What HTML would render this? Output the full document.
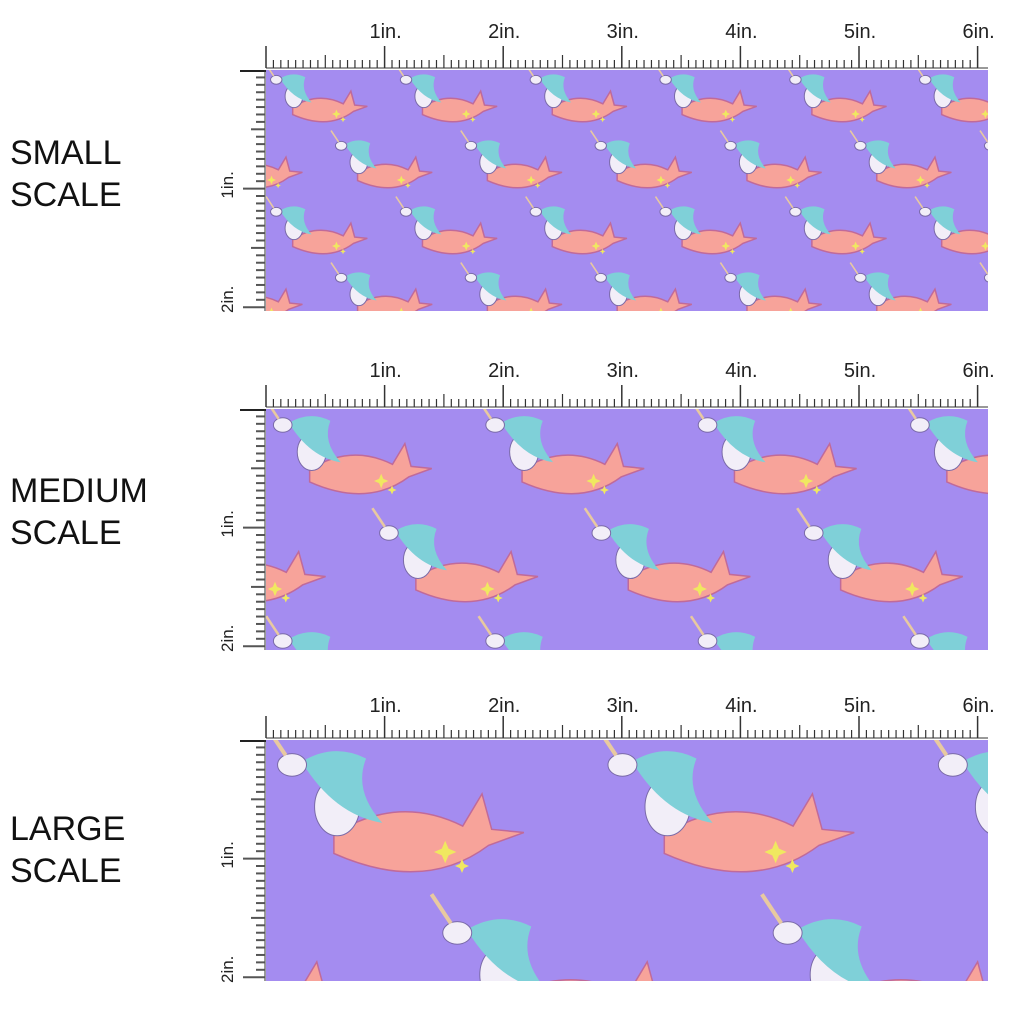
<!DOCTYPE html>
<html style="overflow:hidden"><head><style>
html,body{margin:0;background:#fff;width:1024px;height:1024px;overflow:hidden;font-family:"Liberation Sans",sans-serif}
.lab{position:absolute;left:10px;font-size:34px;line-height:42px;color:#111}
</style></head><body>
<div class="lab" style="top:132px">SMALL<br>SCALE</div>
<div class="lab" style="top:470px">MEDIUM<br>SCALE</div>
<div class="lab" style="top:808px">LARGE<br>SCALE</div>
<svg id="s" width="1024" height="1024" style="position:absolute;left:0;top:0;display:block"></svg>
<script>
const s=document.getElementById('s');let h='';
const P=118.6;
function motif(x,y,k){
 h+=`<path d="M${x-10*k},${y+15*k} q${40*k},${-25*k} ${80*k},${-5*k} l${12*k},${-20*k} l${6*k},${22*k} l${20*k},${2*k} l${-22*k},${8*k} q${-40*k},${30*k} ${-96*k},${5*k}z" fill="#f7a39a" stroke="#c06a9a" stroke-width="1.5"/>`;
 h+=`<ellipse cx="${x-8*k}" cy="${y-2*k}" rx="${14*k}" ry="${18*k}" fill="#f2eef8" stroke="#7a6aa8" stroke-width="1"/>`;
 h+=`<path d="M${x-30*k},${y-30*k} q${20*k},${-12*k} ${40*k},${-2*k} q${-8*k},${20*k} ${10*k},${40*k} q${-30*k},${-5*k} ${-50*k},${-38*k}z" fill="#7fd0d8"/>`;
 h+=`<ellipse cx="${x-36*k}" cy="${y-28*k}" rx="${9*k}" ry="${7*k}" fill="#f2eef8" stroke="#7a6aa8" stroke-width="1"/>`;
 h+=`<line x1="${x-40*k}" y1="${y-34*k}" x2="${x-52*k}" y2="${y-52*k}" stroke="#e8c9a0" stroke-width="${2.5*k}"/>`;
}
function star(x,y,r){h+=`<path d="M${x},${y-r} L${x+r*.3},${y-r*.3} L${x+r},${y} L${x+r*.3},${y+r*.3} L${x},${y+r} L${x-r*.3},${y+r*.3} L${x-r},${y} L${x-r*.3},${y-r*.3}z" fill="#f0e860"/>`;}
function panel(y0,k,lblY){
 const x0=266,x1=988,y1=y0+241;
 h+=`<defs><clipPath id="c${y0}"><rect x="${x0}" y="${y0}" width="${x1-x0}" height="241"/></clipPath></defs>`;
 h+=`<rect x="${x0}" y="${y0}" width="${x1-x0}" height="241" fill="#a48cf0"/>`;
 h+=`<g clip-path="url(#c${y0})">`;
 const w=236*k, hh=120*k;
 for(let r=-1;r<3/k+2;r++)for(let c=-1;c<8/k;c++){
  const ox=x0+c*w+(r%2?w/2:0), oy=y0+30*k+r*hh;
  motif(ox+60*k,oy+20*k,k*1.15);
  star(ox+w/2+10*k,oy+50*k,8*k);star(ox+w/2+22*k,oy+60*k,5*k);
 }
 h+=`</g>`;
 const base=y0-2;
 h+=`<line x1="${x0}" y1="${base}" x2="${x1}" y2="${base}" stroke="#333" stroke-width="1"/>`;
 for(let i=0;i<=96;i++){const x=x0+i*P/16;let len=i%16==0?22:(i%8==0?13:8);
  if(x>x1+1)break;h+=`<line x1="${x}" y1="${base}" x2="${x}" y2="${base-len}" stroke="#333" stroke-width="${i%16==0?1.5:1.2}"/>`;}
 for(let i=1;i<=6;i++)h+=`<text x="${x0+i*P+1}" y="${lblY}" font-size="20" text-anchor="middle" fill="#222" font-family="Liberation Sans">${i}in.</text>`;
 h+=`<line x1="240" y1="${y0+1}" x2="${x0}" y2="${y0+1}" stroke="#222" stroke-width="2"/>`;
 h+=`<line x1="${x0-1}" y1="${y0}" x2="${x0-1}" y2="${y1}" stroke="#333"/>`;
 for(let i=1;i<=32;i++){const y=y0+i*P/16;if(y>y1)break;let len=i%16==0?22:(i%8==0?14:9);
  h+=`<line x1="${x0-1}" y1="${y}" x2="${x0-1-len}" y2="${y}" stroke="#555" stroke-width="2"/>`;}
 h+=`<text transform="translate(233,${y0+P+10}) rotate(-90)" font-size="17" fill="#222" font-family="Liberation Sans">1in.</text>`;
 h+=`<text transform="translate(233,${y1+2}) rotate(-90)" font-size="17" fill="#222" font-family="Liberation Sans">2in.</text>`;
}
panel(70,0.55,38);panel(409,0.9,377);panel(740,1.4,712);
s.innerHTML=h;
</script>
</body></html>
